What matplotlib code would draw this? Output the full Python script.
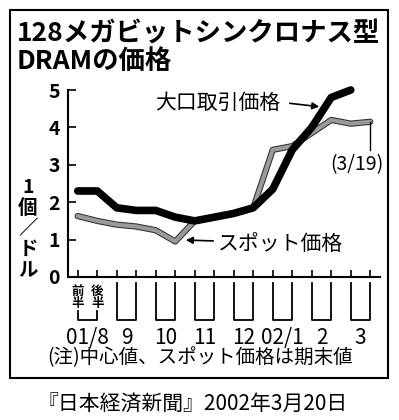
import matplotlib
matplotlib.use('Agg')
import matplotlib.pyplot as plt
import matplotlib.patheffects as pe
from matplotlib.patches import Rectangle
from matplotlib.transforms import blended_transform_factory

plt.rcParams['font.family'] = ['Noto Sans CJK JP', 'DejaVu Sans']

# Data: half-month points, 01/8 first half .. 02/3 second half
contract = [2.3, 2.3, 1.85, 1.78, 1.78, 1.6, 1.5, 1.6, 1.7, 1.85, 2.35, 3.4, 4.0, 4.8, 5.0]
spot = [1.63, 1.5, 1.4, 1.35, 1.25, 0.95, 1.5, 1.6, 1.7, 1.85, 3.4, 3.5, 3.85, 4.2, 4.1, 4.15]
months = ['01/8', '9', '10', '11', '12', '02/1', '2', '3']
yticks = [0, 1, 2, 3, 4, 5]

W, H = 399, 420


def fx(px):
    return px / W


def fy(py):
    return 1 - py / H


fig = plt.figure(figsize=(W / 100, H / 100), dpi=100)
fig.patch.set_facecolor('white')

# Outer frame
fig.add_artist(Rectangle((fx(10), fy(378)), fx(388) - fx(10), fy(10) - fy(378),
                         transform=fig.transFigure, fill=False, lw=1.5, ec='black'))

ax = fig.add_axes([fx(68), fy(277), fx(380) - fx(68), fy(90) - fy(277)])
ax.set_xlim(-0.5, 15.5)
ax.set_ylim(0, 5)

ax.plot(range(len(spot)), spot, color='#9a9a9a', lw=3, clip_on=False,
        solid_capstyle='round',
        path_effects=[pe.Stroke(linewidth=4.5, foreground='#303030'), pe.Normal()])
ax.plot(range(len(contract)), contract, color='black', lw=5.5, clip_on=False,
        solid_capstyle='round')

for s in ['top', 'right']:
    ax.spines[s].set_visible(False)
ax.spines['left'].set_linewidth(1.5)
ax.spines['bottom'].set_linewidth(1.5)

ax.set_yticks(yticks)
ax.set_yticklabels([str(v) for v in yticks], fontsize=14, fontweight='bold')
ax.tick_params(axis='y', direction='in', length=6, width=1.2, pad=6)
ax.set_xticks(range(16))
ax.set_xticklabels([])
ax.tick_params(axis='x', direction='in', length=5, width=1.2)

# Month brackets below the axis
blend = blended_transform_factory(ax.transData, fig.transFigure)
for m in range(len(months)):
    i0, i1 = 2 * m, 2 * m + 1
    top = fy(311) if m == 0 else fy(283)
    ax.plot([i0, i0, i1, i1], [top, fy(320), fy(320), top], color='black',
            lw=1.3, transform=blend, clip_on=False)
    ax.text((i0 + i1) / 2, fy(338), months[m], transform=blend, ha='center',
            va='center', fontsize=15)
ax.text(0, fy(297), '前\n半', transform=blend, ha='center', va='center',
        fontsize=9, fontweight='bold', linespacing=0.9)
ax.text(1, fy(297), '後\n半', transform=blend, ha='center', va='center',
        fontsize=9, fontweight='bold', linespacing=0.9)

# Titles and labels
fig.text(fx(17), fy(34), '128メガビットシンクロナス型', fontsize=19,
         fontweight='bold', va='center', ha='left')
fig.text(fx(17), fy(61), 'DRAMの価格', fontsize=19, fontweight='bold',
         va='center', ha='left')
fig.text(fx(28), fy(229), '1\n個\n／\nド\nル', fontsize=14, fontweight='bold',
         ha='center', va='center', linespacing=1.12)

fig.text(fx(155), fy(103), '大口取引価格', fontsize=15, va='center', ha='left')
ax.annotate('', xy=(fx(322), fy(107)), xycoords='figure fraction',
            xytext=(fx(287), fy(103)), textcoords='figure fraction',
            arrowprops=dict(arrowstyle='-|>', color='black', lw=1.2,
                            mutation_scale=10))
fig.text(fx(218), fy(245), 'スポット価格', fontsize=15, va='center', ha='left')
ax.annotate('', xy=(fx(183), fy(240)), xycoords='figure fraction',
            xytext=(fx(216), fy(241)), textcoords='figure fraction',
            arrowprops=dict(arrowstyle='-|>', color='black', lw=1.2,
                            mutation_scale=10))

# 3/19 marker
ax.plot([15, 15], [spot[-1], 3.4], color='black', lw=1, clip_on=False)
fig.text(fx(357), fy(165), '(3/19)', fontsize=14, ha='center', va='center')

fig.text(fx(200), fy(358), '(注)中心値、スポット価格は期末値', fontsize=14,
         ha='center', va='center')
fig.text(fx(193), fy(405), '『日本経済新聞』2002年3月20日', fontsize=15,
         ha='center', va='center')

fig.savefig('out.png', dpi=100)
